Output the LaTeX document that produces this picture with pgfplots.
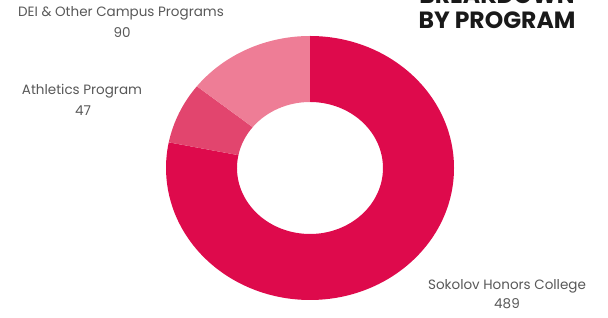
\documentclass[border=0pt]{standalone}
\usepackage{pgfplots}
\pgfplotsset{compat=1.18}
\usepackage{pgfplotstable}
\usepackage{fontspec}
\setmainfont{Poppins}
\definecolor{cMain}{HTML}{DE0A4C}
\definecolor{cAth}{HTML}{E2456E}
\definecolor{cDEI}{HTML}{EE7D96}
\definecolor{cTxt}{HTML}{585858}
\pgfplotstableread{
label value
Sokolov 489
Athletics 47
DEI 90
}\data
\newcommand\donutslice[3]{%
  \fill[#1] (axis cs:{310+144*cos(#2)},{150+132*sin(#2)})
    arc[start angle=#2,end angle=#3,x radius=144pt,y radius=132pt]
    -- (axis cs:{310+73*cos(#3)},{150+66*sin(#3)})
    arc[start angle=#3,end angle=#2,x radius=73pt,y radius=66pt] -- cycle;}
\begin{document}
\begin{tikzpicture}
\pgfplotstablegetelem{0}{value}\of\data \let\va\pgfplotsretval
\pgfplotstablegetelem{1}{value}\of\data \let\vb\pgfplotsretval
\pgfplotstablegetelem{2}{value}\of\data \let\vc\pgfplotsretval
\pgfmathsetmacro\tot{\va+\vb+\vc}
\pgfmathsetmacro\aA{90}
\pgfmathsetmacro\aB{90-360*(\va/\tot)}
\pgfmathsetmacro\aC{\aB-360*(\vb/\tot)}
\pgfmathsetmacro\aD{\aC-360*(\vc/\tot)}
\clip (0,0) rectangle (608pt,318pt);
\begin{axis}[
  scale only axis, width=608pt, height=318pt,
  xmin=0, xmax=608, ymin=0, ymax=318,
  enlargelimits=false, hide axis, clip=false]
\donutslice{cMain}{\aA}{\aB}
\donutslice{cAth}{\aB}{\aC}
\donutslice{cDEI}{\aC}{\aD}
\node[font=\fontsize{13.5}{15}\selectfont, text=cTxt] at (axis cs:121,305) {DEI \& Other Campus Programs};
\node[font=\fontsize{13.5}{15}\selectfont, text=cTxt] at (axis cs:122,285) {\vc};
\node[font=\fontsize{13.5}{15}\selectfont, text=cTxt] at (axis cs:82,227) {Athletics Program};
\node[font=\fontsize{13.5}{15}\selectfont, text=cTxt] at (axis cs:83,207) {\vb};
\node[font=\fontsize{13.5}{15}\selectfont, text=cTxt] at (axis cs:507,32) {Sokolov Honors College};
\node[font=\fontsize{13.5}{15}\selectfont, text=cTxt] at (axis cs:507,14) {\va};
\node[font=\bfseries\fontsize{23.5}{26}\selectfont, text=black!90] at (axis cs:497,298) {BY PROGRAM};
\node[font=\bfseries\fontsize{23.5}{26}\selectfont, text=black!90] at (axis cs:497,323) {BREAKDOWN};
\end{axis}
\end{tikzpicture}
\end{document}
